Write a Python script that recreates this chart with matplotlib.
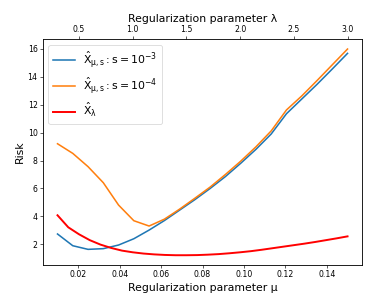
import numpy as np
import matplotlib
matplotlib.use("Agg")
import matplotlib.pyplot as plt

plt.rcParams['mathtext.default'] = 'regular'

# Data
mu = np.linspace(0.01, 0.15, 20)
risk_s3 = [2.74, 1.90, 1.64, 1.69, 1.95, 2.40, 3.02, 3.70, 4.45, 5.20, 6.00, 6.85,
           7.80, 8.80, 9.90, 11.35, 12.40, 13.45, 14.55, 15.67]
risk_s4 = [9.20, 8.51, 7.56, 6.41, 4.81, 3.69, 3.31, 3.80, 4.52, 5.30, 6.10, 7.00,
           7.95, 8.98, 10.12, 11.62, 12.62, 13.72, 14.85, 15.98]
lam = np.linspace(0.3, 3.0, 28)
risk_lam = [4.08, 3.22, 2.72, 2.30, 1.98, 1.74, 1.55, 1.43, 1.34, 1.28,
            1.24, 1.22, 1.22, 1.23, 1.26, 1.30, 1.36, 1.43, 1.51, 1.61,
            1.72, 1.83, 1.94, 2.05, 2.17, 2.30, 2.43, 2.57]

fig = plt.figure(figsize=(374/56, 308/56), dpi=56)
ax = fig.add_axes([0.115, 0.1396, 0.853, 0.7334])
l1, = ax.plot(mu, risk_s3, color='C0', lw=2, label=r'$\hat{X}_{\mu,s}: s = 10^{-3}$')
l2, = ax.plot(mu, risk_s4, color='C1', lw=2, label=r'$\hat{X}_{\mu,s}: s = 10^{-4}$')
ax.set_xlabel('Regularization parameter μ', fontsize=14)
ax.set_ylabel('Risk', fontsize=14)
ax.tick_params(labelsize=10)
ax.set_yticks([2, 4, 6, 8, 10, 12, 14, 16])

ax2 = ax.twiny()
l3, = ax2.plot(lam, risk_lam, color='red', lw=2.5, label=r'$\hat{X}_{\lambda}$')
ax2.set_xlabel('Regularization parameter λ', fontsize=14)
ax2.tick_params(labelsize=10)

ax.set_ylim(0.52, 16.69)
ax.legend(handles=[l1, l2, l3], loc='upper left', fontsize=14)

fig.savefig('out.png', dpi=56)
